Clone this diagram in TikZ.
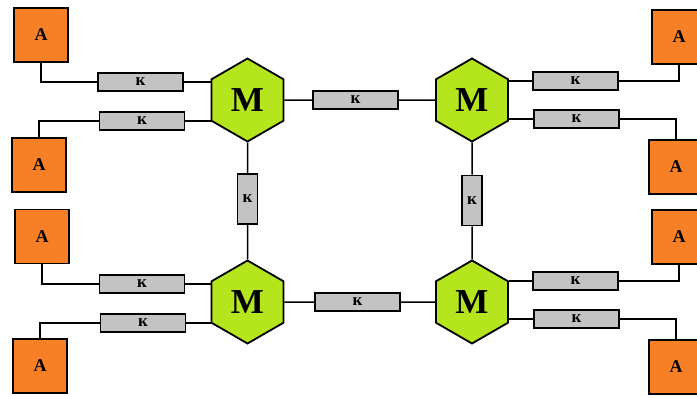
\documentclass[tikz,border=0pt]{standalone}
\usepackage{fontspec}
\setmainfont{Liberation Serif}
\usetikzlibrary{shapes.geometric}

\definecolor{boxorange}{RGB}{247,128,39}
\definecolor{hexgreen}{RGB}{181,230,29}
\definecolor{linkgray}{RGB}{195,195,195}

\tikzset{
  abox/.style={draw, line width=1.8pt, fill=boxorange, minimum size=54pt, inner sep=0pt,
    font=\fontsize{18}{18}\selectfont\bfseries},
  mhex/.style={draw, line width=1.8pt, fill=hexgreen, regular polygon, regular polygon sides=6,
    shape border rotate=30, minimum size=83pt, inner sep=0pt,
    font=\fontsize{35}{35}\selectfont\bfseries},
  kbox/.style={draw, line width=1.8pt, fill=linkgray, minimum width=85pt, minimum height=18pt,
    inner sep=0pt, font=\fontsize{17}{17}\selectfont\bfseries},
  kvbox/.style={kbox, minimum width=20pt, minimum height=50pt},
  wire/.style={line width=1.5pt}
}

\begin{document}
\begin{tikzpicture}[x=1pt,y=-1pt]
\clip (0,0) rectangle (697,397);

% four central nodes
\node[mhex] (m1) at (247.5,100) {М};
\node[mhex] (m2) at (472,100) {М};
\node[mhex] (m3) at (247.5,302) {М};
\node[mhex] (m4) at (472,302) {М};

% links between them
\node[kbox] (kt) at (355.5,100) {к};
\node[kbox] (kb) at (357.5,302) {к};
\node[kvbox] (kl) at (247.5,199) {к};
\node[kvbox] (kr) at (472,200.5) {к};

\draw[wire] (m1.0) -- (kt.west);
\draw[wire] (kt.east) -- (m2.180);
\draw[wire] (m3.0) -- (kb.west);
\draw[wire] (kb.east) -- (m4.180);
\draw[wire] (m1.270) -- (kl.north);
\draw[wire] (kl.south) -- (m3.90);
\draw[wire] (m2.270) -- (kr.north);
\draw[wire] (kr.south) -- (m4.90);

% left side
\node[abox] (a1) at (41,35) {А};
\node[abox] (a2) at (39,165) {А};
\node[abox] (a3) at (42,236.5) {А};
\node[abox] (a4) at (40,366) {А};
\node[kbox] (k1) at (140.5,82) {к};
\node[kbox] (k2) at (142,121) {к};
\node[kbox] (k3) at (142,284) {к};
\node[kbox] (k4) at (143,323) {к};

\draw[wire] (a1.south) |- (k1.west);
\draw[wire] (a2.north) |- (k2.west);
\draw[wire] (a3.south) |- (k3.west);
\draw[wire] (a4.north) |- (k4.west);
\draw[wire] (k1.east) -- (k1.east -| m1.180);
\draw[wire] (k2.east) -- (k2.east -| m1.180);
\draw[wire] (k3.east) -- (k3.east -| m3.180);
\draw[wire] (k4.east) -- (k4.east -| m3.180);

% right side
\node[abox] (a5) at (679,37) {А};
\node[abox] (a6) at (676,167) {А};
\node[abox] (a7) at (679,237) {А};
\node[abox] (a8) at (676,367) {А};
\node[kbox] (k5) at (575.5,81) {к};
\node[kbox] (k6) at (576.5,119) {к};
\node[kbox] (k7) at (575.5,281) {к};
\node[kbox] (k8) at (576.5,319) {к};

\draw[wire] (k5.east) -| (a5.south);
\draw[wire] (k6.east) -| (a6.north);
\draw[wire] (k7.east) -| (a7.south);
\draw[wire] (k8.east) -| (a8.north);
\draw[wire] (k5.west) -- (k5.west -| m2.0);
\draw[wire] (k6.west) -- (k6.west -| m2.0);
\draw[wire] (k7.west) -- (k7.west -| m4.0);
\draw[wire] (k8.west) -- (k8.west -| m4.0);
\end{tikzpicture}
\end{document}
